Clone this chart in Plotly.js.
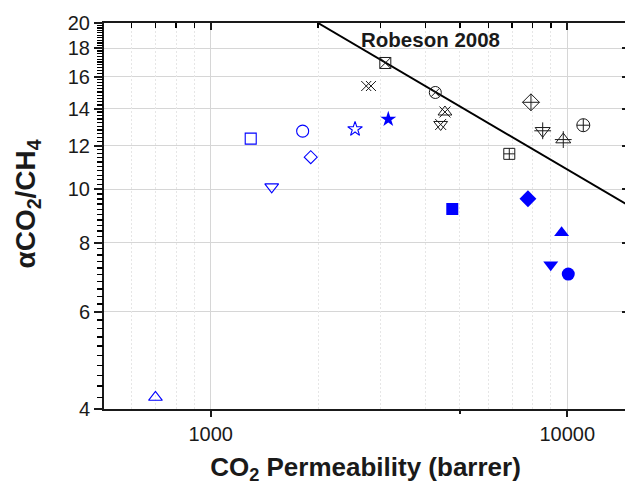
<!DOCTYPE html>
<html>
<head>
<meta charset="utf-8">
<script src="https://cdn.plot.ly/plotly-3.0.1.min.js"></script>
<style>
html,body{margin:0;padding:0;overflow:hidden;background:#fff;}
#chart{width:632px;height:485px;}
</style>
</head>
<body>
<div id="chart"></div>
<script>
// ---- data (CO2 permeability in barrer, CO2/CH4 selectivity) ----
// blue open markers
const openSymbols = ['triangle-up-open','square-open','triangle-down-open','circle-open','diamond-open','star-open'];
const openP = [700, 1295, 1483, 1811, 1908, 2540];
const openA = [4.20, 12.35, 10.1, 12.74, 11.43, 12.85];
const openSize = [12, 11, 12, 12, 10, 11];

// blue filled markers
const filledSymbols = ['star','square','diamond','triangle-up','triangle-down','circle'];
const filledP = [3148, 4759, 7757, 9640, 8987, 10065];
const filledA = [13.39, 9.21, 9.61, 8.34, 7.30, 7.02];
const filledSize = [12, 12, 13, 13, 13, 13];

// black literature markers (base shapes)
const litSymbols = ['square-x-open','x-thin-open','x-thin-open','circle-x-open','triangle-up-open','triangle-down-open','diamond-cross-open','triangle-down-open','triangle-up-open','circle-cross-open','square-cross-open'];
const litP = [3088, 2730, 2815, 4265, 4539, 4415, 7910, 8532, 9745, 11090, 6877];
const litA = [16.93, 15.38, 15.38, 14.97, 13.8, 13.1, 14.37, 12.76, 12.30, 13.06, 11.59];
const litSize = [11, 10, 10, 12, 12, 12, 13, 13, 13, 13, 11];

// overlay strokes on the triangle symbols (x or plus)
const ovSymbols = ['x-thin-open','x-thin-open','cross-thin-open','cross-thin-open'];
const ovP = [4539, 4415, 8532, 9745];
const ovA = [13.8, 13.1, 12.76, 12.30];
const ovSize = [11, 11, 12, 12];

// Robeson 2008 upper bound
const robP = [2000, 15000];
const robA = [20.0, 9.31];
const robLabel = 'Robeson 2008';

// axis ticks
const xMajor = [1000, 10000];
const xMajorText = ['1000', '10000'];
const xBottomMinor = [5000];
const xMinor = [600, 700, 800, 900, 2000, 3000, 4000, 5000, 6000, 7000, 8000, 9000];
const yMajor = [4, 6, 8, 10, 12, 14, 16, 18, 20];
const yMajorText = ['4', '6', '8', '10', '12', '14', '16', '18', '20'];
const yMinor = [];
for (let k = 21; k < 100; k++) { if (k % 10 !== 0) yMinor.push(k / 5); }
const yMinorText = yMinor.map(v => v.toFixed(1));

const blue = '#0000ff';
const ink = '#1a1a1a';

const traces = [
  {x: robP, y: robA, xaxis: 'x2', yaxis: 'y2', mode: 'lines', line: {color: '#000', width: 2}, hoverinfo: 'skip'},
  {x: openP, y: openA, xaxis: 'x4', yaxis: 'y', mode: 'markers', marker: {symbol: openSymbols, size: openSize, opacity: 1, color: blue, line: {color: blue, width: 1.1}}},
  {x: filledP, y: filledA, xaxis: 'x', yaxis: 'y3', mode: 'markers', marker: {symbol: filledSymbols, size: filledSize, opacity: 1, color: blue, line: {width: 0}}},
  {x: litP, y: litA, xaxis: 'x3', yaxis: 'y', mode: 'markers', marker: {symbol: litSymbols, size: litSize, opacity: 1, color: ink, line: {color: ink, width: 1}}},
  {x: ovP, y: ovA, xaxis: 'x', yaxis: 'y', mode: 'markers', marker: {symbol: ovSymbols, size: ovSize, opacity: 1, color: ink, line: {color: ink, width: 1}}}
];

const xr = [2.7008, 4.1675];
const yr = [Math.log10(4), Math.log10(20)];
const fam = 'Liberation Sans, Arial, sans-serif';
const tickFont = {family: fam, size: 20, color: ink};

const layout = {
  width: 632, height: 485,
  margin: {l: 104, r: 5, t: 23, b: 76},
  paper_bgcolor: '#fff', plot_bgcolor: '#fff',
  showlegend: false,
  // bottom axis: labelled decades
  xaxis: {
    type: 'log', range: xr,
    tickmode: 'array', tickvals: xMajor, ticktext: xMajorText,
    ticks: 'outside', ticklen: 6, tickwidth: 2, tickcolor: ink,
    showline: true, linewidth: 2, linecolor: ink,
    showgrid: false, zeroline: false,
    tickfont: tickFont,
    title: {text: 'CO<sub>2</sub> Permeability (barrer)', font: {family: fam, size: 26, color: ink, weight: 'bold'}, standoff: 14}
  },
  // top axis: decade ticks inside + solid decade grid
  xaxis2: {
    type: 'log', range: xr, overlaying: 'x', side: 'top', anchor: 'y2',
    tickmode: 'array', tickvals: xMajor, ticks: 'inside', ticklen: 7, tickwidth: 2, tickcolor: ink,
    showticklabels: false,
    showline: true, linewidth: 2, linecolor: ink,
    showgrid: true, gridcolor: '#d6d6d6', gridwidth: 1.2, zeroline: false
  },
  // top axis: minor ticks inside + dashed grid
  xaxis3: {
    type: 'log', range: xr, overlaying: 'x', side: 'top', anchor: 'y',
    tickmode: 'array', tickvals: xMinor, ticks: 'inside', ticklen: 5, tickwidth: 1.3, tickcolor: '#000',
    showticklabels: false, showline: false, zeroline: false,
    showgrid: true, gridcolor: '#e6e6e6', griddash: '2px,2px', gridwidth: 1
  },
  // bottom axis: short tick at 5000
  xaxis4: {
    type: 'log', range: xr, overlaying: 'x', side: 'bottom', anchor: 'y',
    tickmode: 'array', tickvals: xBottomMinor, ticks: 'outside', ticklen: 4, tickwidth: 1.5, tickcolor: ink,
    showticklabels: false, showline: false, showgrid: false, zeroline: false
  },
  yaxis: {
    type: 'log', range: yr,
    tickmode: 'array', tickvals: yMajor, ticktext: yMajorText,
    ticks: 'outside', ticklen: 8, tickwidth: 2, tickcolor: ink,
    showline: true, linewidth: 2, linecolor: ink,
    showgrid: true, gridcolor: '#d6d6d6', gridwidth: 1.2, zeroline: false,
    tickfont: tickFont
  },
  yaxis2: {
    type: 'log', range: yr, overlaying: 'y', side: 'right', anchor: 'x2',
    tickmode: 'array', tickvals: yMajor, ticks: 'inside', ticklen: 5, tickwidth: 2, tickcolor: ink,
    showticklabels: false, showline: true, linewidth: 2, linecolor: ink,
    showgrid: false, zeroline: false
  },
  // left axis: dense minor ticks
  yaxis3: {
    type: 'log', range: yr, overlaying: 'y', side: 'left', anchor: 'x',
    tickmode: 'array', tickvals: yMinor, ticktext: yMinorText, ticks: 'outside', ticklen: 6, tickwidth: 1.3, tickcolor: '#000',
    showticklabels: false, showline: false, showgrid: false, zeroline: false
  },
  annotations: [
    {text: '<b>' + robLabel + '</b>', xref: 'x', yref: 'y', x: Math.log10(4122), y: Math.log10(18.7), showarrow: false,
     font: {family: fam, size: 20.5, color: ink}},
    {text: '<b>αCO<sub>2</sub>/CH<sub>4</sub></b>', xref: 'paper', yref: 'paper', x: -0.147, y: 0.53, textangle: -90,
     xanchor: 'center', yanchor: 'middle', showarrow: false,
     font: {family: fam, size: 28, color: ink}}
  ]
};

Plotly.newPlot('chart', traces, layout, {staticPlot: true, displayModeBar: false});
</script>
</body>
</html>
